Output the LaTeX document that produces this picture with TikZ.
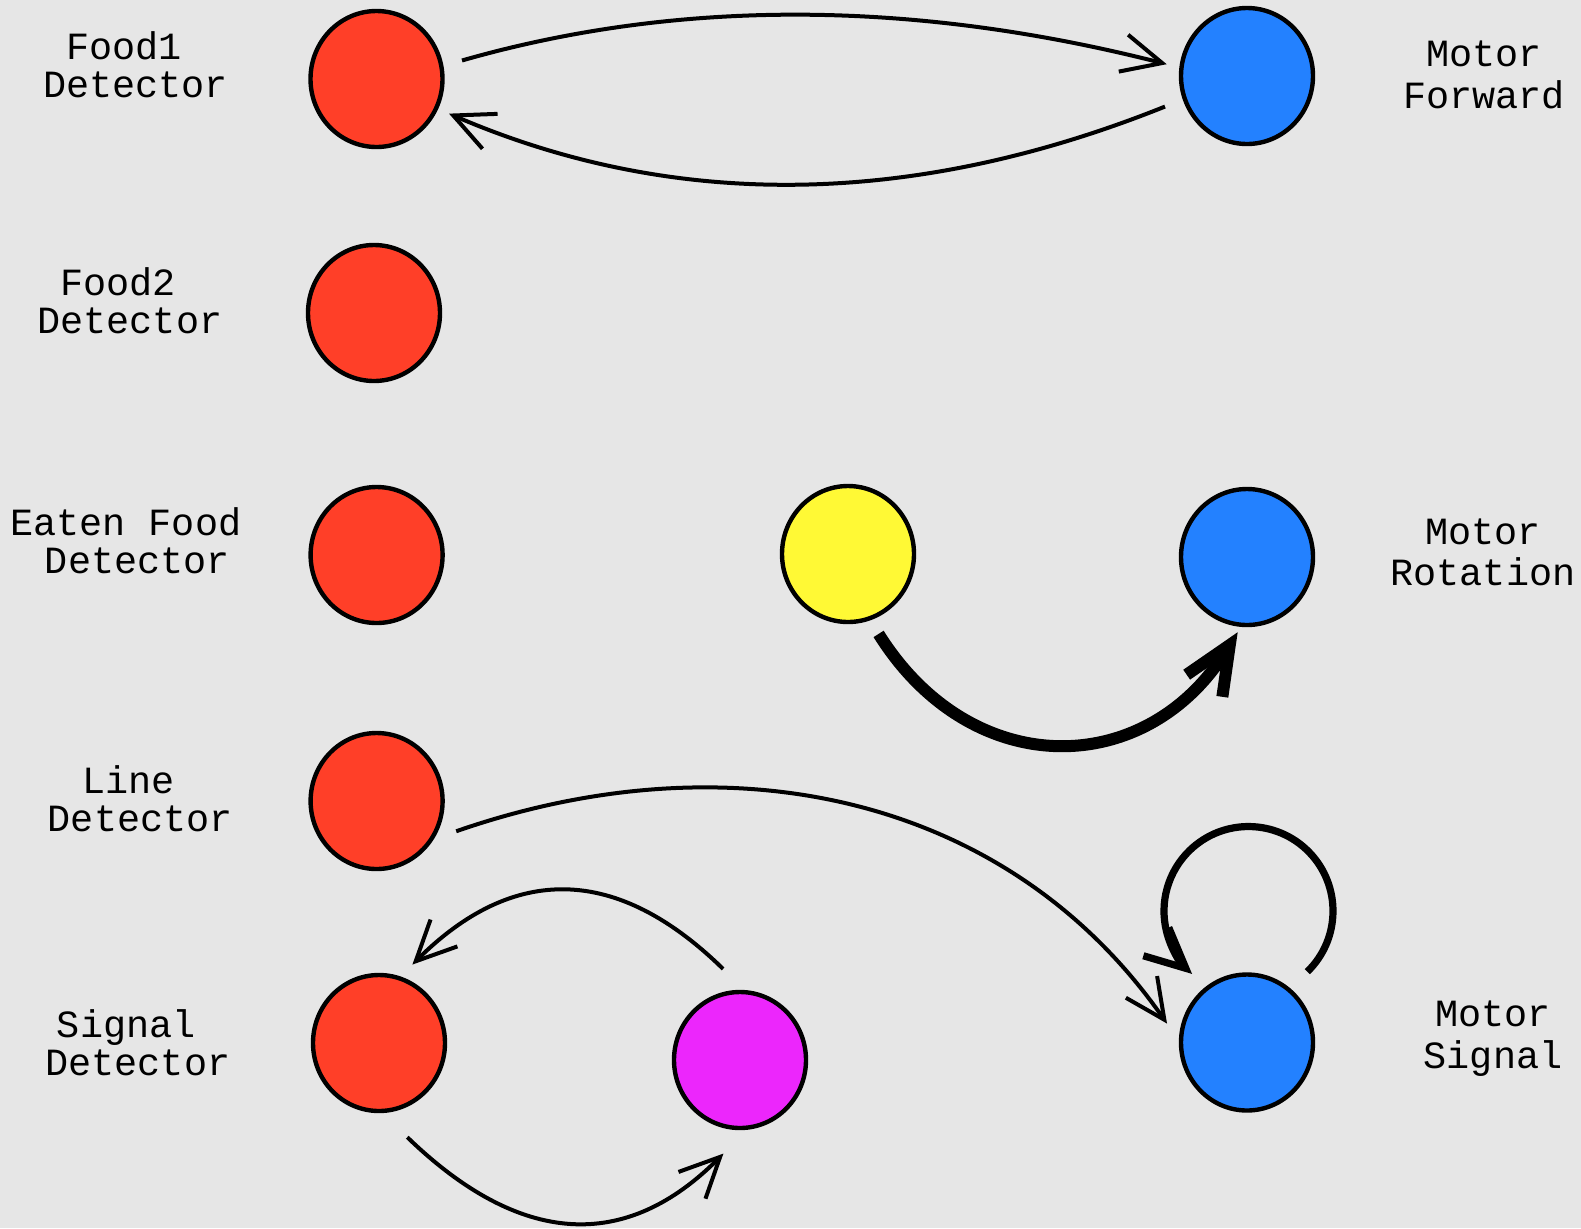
\documentclass[tikz,border=0pt]{standalone}
\usepackage{fontspec}
\newfontfamily\labelfont{Liberation Mono}
\usetikzlibrary{shapes.geometric,arrows.meta}
\definecolor{bggray}{HTML}{E6E6E6}
\definecolor{detred}{HTML}{FF3F28}
\definecolor{motblue}{HTML}{2381FF}
\definecolor{hidyellow}{HTML}{FFF935}
\definecolor{hidmagenta}{HTML}{EC26FC}

\begin{document}
\begin{tikzpicture}[x=0.5pt,y=-0.5pt,
  neuron/.style={ellipse, draw=black, line width=2.2pt, minimum width=66pt,
    minimum height=68pt, inner sep=0pt, outer sep=0pt},
  lbl/.style={font=\labelfont\fontsize{19.25}{19.25}\selectfont,
    align=center, inner sep=0pt},
  link/.style={line width=2pt, -{Straight Barb[length=20pt,width=19pt]}},
  strong/.style={line width=6pt, -{Straight Barb[length=24pt,width=21pt]}},
  selfloop/.style={line width=3.6pt, -{Straight Barb[length=20pt,width=19pt]}}]

% canvas
\fill[bggray] (0,0) rectangle (1581,1228);
\useasboundingbox (0,0) rectangle (1581,1228);

% sensor neurons
\node[neuron, fill=detred] (food1)  at (376.5,79)   {};
\node[neuron, fill=detred] (food2)  at (374,313)    {};
\node[neuron, fill=detred] (eaten)  at (376.6,555)  {};
\node[neuron, fill=detred] (line)   at (376.6,801)  {};
\node[neuron, fill=detred] (signal) at (379,1043)   {};

% hidden neurons
\node[neuron, fill=hidyellow]  (hid)    at (848,554)   {};
\node[neuron, fill=hidmagenta] (hidsig) at (740,1060)  {};

% motor neurons
\node[neuron, fill=motblue] (mfwd) at (1247,76)     {};
\node[neuron, fill=motblue] (mrot) at (1247,557)    {};
\node[neuron, fill=motblue] (msig) at (1247,1042.5) {};

% labels
\node[lbl] (lfood1)  at (124,70.55)    {Food1\strut\\\hphantom{D}Detector\strut};
\node[lbl] (lfood2)  at (118.3,306.55) {Food2\strut\\\hphantom{D}Detector\strut};
\node[lbl] (leaten)  at (125.8,546.55) {Eaten Food\strut\\\hphantom{D}Detector\strut};
\node[lbl] (lline)   at (128.7,804.25) {Line\strut\\\hphantom{D}Detector\strut};
\node[lbl] (lsignal) at (126.3,1048.25){Signal\strut\\\hphantom{D}Detector\strut};
\node[lbl] (lmfwd)   at (1484,79.85)   {Motor\strut\\Forward\strut};
\node[lbl] (lmrot)   at (1483,557.05)  {Motor\strut\\Rotation\strut};
\node[lbl] (lmsig)   at (1493,1039.85) {Motor\strut\\Signal\strut};

% connections
\draw[link, shorten <=10.75pt, shorten >=7.6pt]
  (food1.11) .. controls (679,-1.7) and (914,-0.2) .. (mfwd.173.7);
\draw[link, shorten <=10.65pt, shorten >=7pt]
  (mfwd.200) .. controls (912.5,207.8) and (673.7,210.5) .. (food1.-26.9);
\draw[strong, shorten <=9.1pt, shorten >=4.35pt]
  (hid.-72) .. controls (970.9,781.7) and (1146.1,780) .. (mrot.266.6);
\draw[link, shorten <=13.6pt, shorten >=12.25pt]
  (line.-36.8) .. controls (730,736) and (1007.6,794.7) .. (msig.181);
\draw[link, shorten <=16.8pt, shorten >=9.6pt]
  (hidsig.84.2) .. controls (616.9,865) and (513.3,863.6) .. (signal.73.1);
\draw[link, shorten <=18.85pt, shorten >=18.5pt]
  (signal.-89.4) .. controls (520.4,1246.6) and (625.7,1252.2) .. (hidsig.-82.5);
\draw[selfloop]
  (msig.center) ++(60.3,-70.8) arc[start angle=45.9, end angle=-228.1, radius=84.5];
\end{tikzpicture}
\end{document}
